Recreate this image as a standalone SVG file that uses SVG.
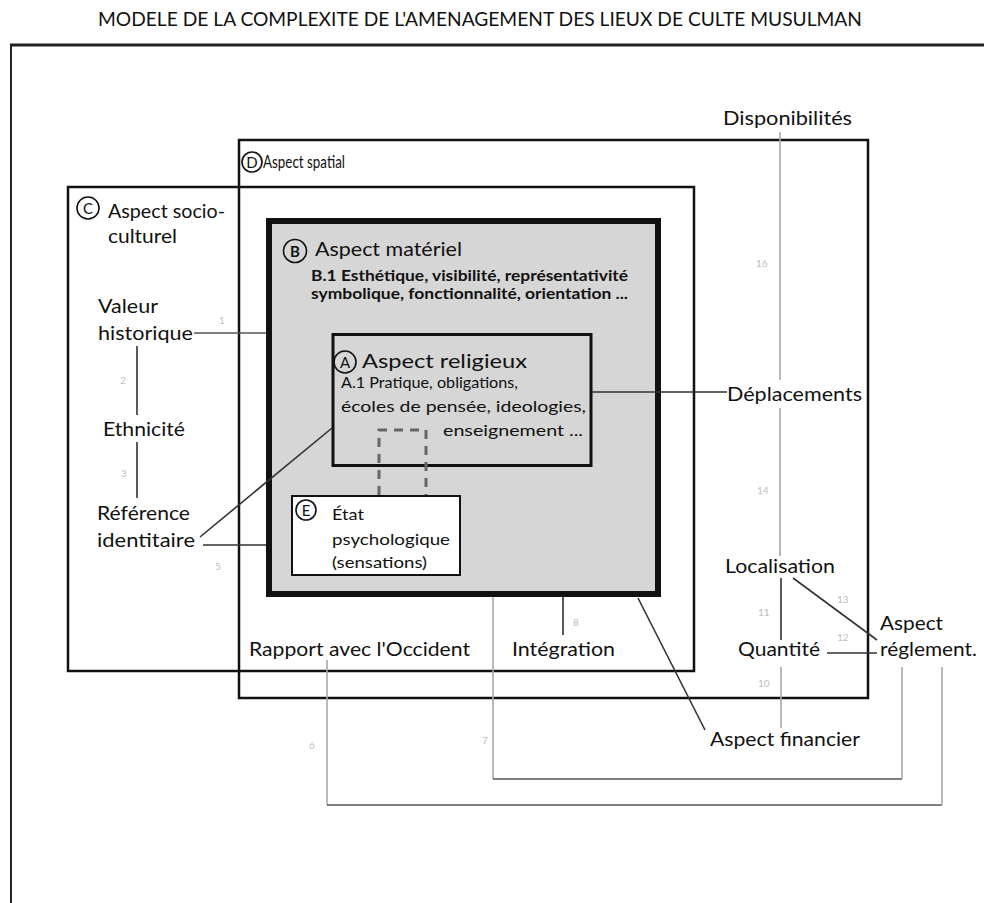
<svg xmlns="http://www.w3.org/2000/svg" width="984" height="903" viewBox="0 0 984 903">
<style>
text{font-family:Lato,"Open Sans","Liberation Sans",sans-serif;fill:#111}
.t{font-size:19px}
.s{font-size:16px}
.b{font-size:15.5px;font-weight:bold}
.n{font-size:10px;fill:#bdbdbd}
.ci{fill:none;stroke:#111;stroke-width:1.6}
.cl{font-size:15px;text-anchor:middle}
.box{fill:none;stroke:#111}
.ln{stroke:#333;stroke-width:1.6;fill:none}
.lg{stroke:#a8a8a8;stroke-width:1.6;fill:none}
.lh{stroke:#555;stroke-width:1.6;fill:none}
</style>
<rect width="984" height="903" fill="#fff"/>
<text x="98" y="26" font-size="19" textLength="764" lengthAdjust="spacingAndGlyphs">MODELE DE LA COMPLEXITE DE L'AMENAGEMENT DES LIEUX DE CULTE MUSULMAN</text>
<g id="frame">
<line x1="10" y1="45" x2="984" y2="45" stroke="#222" stroke-width="3"/>
<line x1="11" y1="45" x2="11" y2="903" stroke="#222" stroke-width="2"/>
</g>
<g id="D">
<rect class="box" x="239" y="140" width="629" height="558" stroke-width="2.5"/>
<circle class="ci" cx="252" cy="162" r="10"/>
<text class="cl" x="252" y="167.5">D</text>
<text x="263" y="168" font-size="18" textLength="82" lengthAdjust="spacingAndGlyphs">Aspect spatial</text>
</g>
<g id="C">
<rect class="box" x="68" y="187" width="626" height="484" stroke-width="2.5"/>
<circle class="ci" cx="88" cy="208" r="11"/>
<text class="cl" x="88" y="213.5">C</text>
<text x="108" y="218" font-size="19" textLength="117" lengthAdjust="spacingAndGlyphs">Aspect socio-</text>
<text x="108" y="243" font-size="19" textLength="69" lengthAdjust="spacingAndGlyphs">culturel</text>
</g>
<g id="B">
<rect x="269" y="221" width="389" height="373" fill="#d6d6d6" stroke="#111" stroke-width="6"/>
<circle class="ci" cx="295" cy="251" r="11.5"/>
<text class="cl" x="295" y="256.5" font-weight="bold">B</text>
<text x="315" y="256" font-size="20" textLength="147" lengthAdjust="spacingAndGlyphs">Aspect matériel</text>
<text class="b" x="311" y="281" textLength="317" lengthAdjust="spacingAndGlyphs">B.1 Esthétique, visibilité, représentativité</text>
<text class="b" x="311" y="299" textLength="317" lengthAdjust="spacingAndGlyphs">symbolique, fonctionnalité, orientation ...</text>
</g>
<g id="A">
<rect x="333" y="334.5" width="258" height="131" fill="#d6d6d6" stroke="#111" stroke-width="3"/>
<circle class="ci" cx="345" cy="362" r="11"/>
<text class="cl" x="345" y="367.5">A</text>
<text x="362" y="368" font-size="20" textLength="165" lengthAdjust="spacingAndGlyphs">Aspect religieux</text>
<text class="s" x="341" y="388" textLength="177" lengthAdjust="spacingAndGlyphs">A.1 Pratique, obligations,</text>
<text class="s" x="341" y="412" textLength="245" lengthAdjust="spacingAndGlyphs">écoles de pensée, ideologies,</text>
<text class="s" x="443" y="436" textLength="140" lengthAdjust="spacingAndGlyphs">enseignement ...</text>
</g>
<g id="E">
<rect x="292" y="496" width="168" height="79" fill="#fff" stroke="#111" stroke-width="2"/>
<circle class="ci" cx="306" cy="510" r="10"/>
<text class="cl" x="306" y="515.5">E</text>
<text class="s" x="332" y="520" textLength="32" lengthAdjust="spacingAndGlyphs">État</text>
<text class="s" x="332" y="545" textLength="118" lengthAdjust="spacingAndGlyphs">psychologique</text>
<text class="s" x="332" y="568" textLength="95" lengthAdjust="spacingAndGlyphs">(sensations)</text>
</g>
<g id="labels">
<text class="t" x="723" y="125" textLength="129" lengthAdjust="spacingAndGlyphs">Disponibilités</text>
<text class="t" x="98" y="313" textLength="60" lengthAdjust="spacingAndGlyphs">Valeur</text>
<text class="t" x="98" y="340" textLength="95" lengthAdjust="spacingAndGlyphs">historique</text>
<text class="t" x="103" y="436" textLength="82" lengthAdjust="spacingAndGlyphs">Ethnicité</text>
<text class="t" x="97" y="520" textLength="93" lengthAdjust="spacingAndGlyphs">Référence</text>
<text class="t" x="97" y="547" textLength="98" lengthAdjust="spacingAndGlyphs">identitaire</text>
<text class="t" x="727" y="401" textLength="135" lengthAdjust="spacingAndGlyphs">Déplacements</text>
<text class="t" x="725" y="573" textLength="110" lengthAdjust="spacingAndGlyphs">Localisation</text>
<text class="t" x="738" y="656" textLength="82" lengthAdjust="spacingAndGlyphs">Quantité</text>
<text class="t" x="880" y="630" textLength="63" lengthAdjust="spacingAndGlyphs">Aspect</text>
<text class="t" x="880" y="656" textLength="97" lengthAdjust="spacingAndGlyphs">réglement.</text>
<text class="t" x="249" y="656" textLength="221" lengthAdjust="spacingAndGlyphs">Rapport avec l'Occident</text>
<text class="t" x="512" y="656" textLength="103" lengthAdjust="spacingAndGlyphs">Intégration</text>
<text class="t" x="710" y="746" textLength="150" lengthAdjust="spacingAndGlyphs">Aspect financier</text>
</g>
<g id="numbers">
<text class="n" x="219" y="324">1</text>
<text class="n" x="120" y="384">2</text>
<text class="n" x="121" y="477">3</text>
<text class="n" x="215" y="570">5</text>
<text class="n" x="309" y="749">6</text>
<text class="n" x="482" y="744">7</text>
<text class="n" x="573" y="626">8</text>
<text class="n" x="758" y="687">10</text>
<text class="n" x="758" y="616">11</text>
<text class="n" x="837" y="641">12</text>
<text class="n" x="837" y="603">13</text>
<text class="n" x="757" y="494">14</text>
<text class="n" x="756" y="267">16</text>
</g>
<g id="connectors">
<line class="lh" x1="194" y1="333" x2="266" y2="333"/>
<line class="ln" x1="137" y1="346" x2="137" y2="415"/>
<line class="ln" x1="137" y1="442" x2="137" y2="498"/>
<line class="ln" x1="200" y1="537" x2="332" y2="428"/>
<line class="ln" x1="203" y1="545" x2="266" y2="545"/>
<line class="ln" x1="592" y1="392" x2="727" y2="392"/>
<line class="lg" x1="780" y1="132" x2="780" y2="380"/>
<line class="lg" x1="780" y1="408" x2="780" y2="556"/>
<line class="ln" x1="781" y1="578" x2="781" y2="640"/>
<line class="lg" x1="781" y1="667" x2="781" y2="728"/>
<line class="ln" x1="793" y1="578" x2="877" y2="640"/>
<line class="ln" x1="827" y1="653" x2="877" y2="653"/>
<line class="ln" x1="563" y1="597" x2="563" y2="635"/>
<line class="ln" x1="638" y1="598" x2="705" y2="730"/>
<polyline class="lg" points="493,597 493,779"/>
<line class="lh" x1="493" y1="779" x2="902" y2="779"/>
<polyline class="lg" points="902,779 902,667"/>
<polyline class="lg" points="327,660 327,805"/>
<line class="lh" x1="327" y1="805" x2="942" y2="805"/>
<polyline class="lg" points="942,805 942,667"/>
<path d="M379,495 V430 H426 V495" fill="none" stroke="#666" stroke-width="3" stroke-dasharray="9,7"/>
</g>
</svg>
